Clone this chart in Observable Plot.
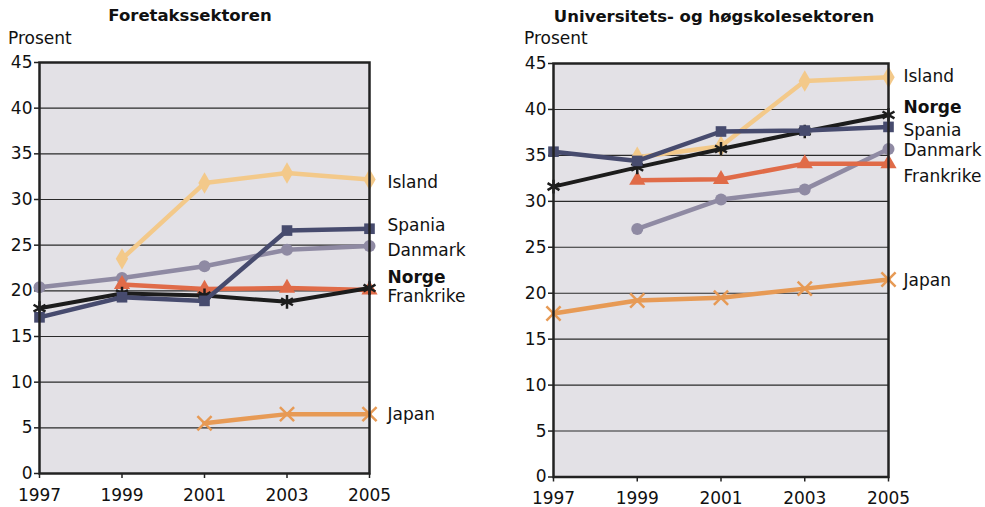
<!DOCTYPE html>
<html><head><meta charset="utf-8">
<script src="https://cdn.jsdelivr.net/npm/d3@7"></script>
<script src="https://cdn.jsdelivr.net/npm/@observablehq/plot@0.6"></script>
<style>
body{margin:0;background:#fff;font-family:"DejaVu Sans",Verdana,sans-serif;}
#wrap{position:relative;width:985px;height:507px;overflow:hidden;}
.t{position:absolute;font-size:17px;line-height:17px;white-space:nowrap;color:#111;}
.title{font-weight:bold;font-size:16.5px;transform:translateX(-50%);}
.panel{position:absolute;top:0;}
</style></head><body>
<div id="wrap">
  <div class="t title" style="left:190px;top:7px;">Foretakssektoren</div>
  <div class="t" style="left:8px;top:30px;">Prosent</div>
  <div class="t title" style="left:714px;top:8px;">Universitets- og høgskolesektoren</div>
  <div class="t" style="left:524px;top:30px;">Prosent</div>
  <div class="panel" id="p1" style="left:0px;"></div>
  <div class="panel" id="p2" style="left:514px;"></div>
</div>
<script>
const years = [1997, 1999, 2001, 2003, 2005];
const yTicks = [0, 5, 10, 15, 20, 25, 30, 35, 40, 45];
const countries = ["Island", "Spania", "Danmark", "Frankrike", "Norge", "Japan"];
const colors = ["#f3c98a", "#474b6e", "#8f8aa3", "#e06b48", "#1c1c1c", "#e79a55"];
const symbols = ["diamond", "square", "circle", "triangle", "asterisk", "times"];
const drawOrder = ["Island", "Japan", "Danmark", "Frankrike", "Norge", "Spania"];

// Foretakssektoren (values per year 1997..2005)
const fIsland    = [null, 23.5, 31.8, 32.9, 32.2];
const fSpania    = [17.1, 19.3, 18.9, 26.6, 26.8];
const fDanmark   = [20.4, 21.4, 22.7, 24.5, 24.9];
const fFrankrike = [null, 20.7, 20.2, 20.3, 20.1];
const fNorge     = [18.1, 19.7, 19.5, 18.8, 20.3];
const fJapan     = [null, null, 5.5, 6.5, 6.5];
// label anchors (data units), order: Island, Spania, Danmark, Frankrike, Norge, Japan
const fLabelY    = [31.9, 27.2, 24.4, 19.4, 21.5, 6.5];

// Universitets- og høgskolesektoren
const uIsland    = [null, 34.8, 36.0, 43.1, 43.5];
const uSpania    = [35.4, 34.4, 37.6, 37.7, 38.1];
const uDanmark   = [null, 27.0, 30.2, 31.3, 35.7];
const uFrankrike = [null, 32.3, 32.4, 34.1, 34.1];
const uNorge     = [31.6, 33.7, 35.7, 37.6, 39.4];
const uJapan     = [17.8, 19.2, 19.5, 20.5, 21.5];
const uLabelY    = [43.6, 37.7, 35.5, 32.7, 40.2, 21.4];

function buildRows(series) {
  const rows = [];
  countries.forEach((c, i) => series[i].forEach((v, j) => {
    if (v != null) rows.push({country: c, year: years[j], value: v});
  }));
  return rows;
}

function panel(series, labelY, o) {
  const rows = buildRows(series);
  const labels = countries.map((c, i) => ({country: c, pos: labelY[i], year: 2005}));
  const marks = [
    Plot.frame({fill: "#e3e1e6", stroke: null}),
    Plot.gridY(yTicks.slice(1, -1), {stroke: "#2a2a2a", strokeOpacity: 1, strokeWidth: 1.1}),
    Plot.axisY({ticks: yTicks, tickSize: 5, tickPadding: 2, label: null, stroke: "#222", strokeWidth: 1.5}),
    Plot.axisX({ticks: years, tickFormat: "d", tickSize: 5, tickPadding: 10, label: null, stroke: "#222", strokeWidth: 1.5})
  ];
  for (const c of drawOrder) {
    const data = rows.filter(d => d.country === c);
    marks.push(Plot.line(data, {x: "year", y: "value", stroke: "country", strokeWidth: c === "Norge" ? 4 : 4.5, strokeLinejoin: "round"}));
    if (c === "Norge" || c === "Japan") {
      marks.push(Plot.dot(data, {x: "year", y: "value", symbol: "country", stroke: "country", strokeWidth: 2.5, r: 6.5}));
    } else {
      marks.push(Plot.dot(data, {x: "year", y: "value", symbol: "country", fill: "country", r: c === "Island" ? 6.5 : 6}));
    }
  }
  marks.push(Plot.frame({stroke: "#222", strokeWidth: 2.5}));
  marks.push(Plot.text(labels.filter(d => d.country !== "Norge"), {x: "year", y: "pos", text: "country", textAnchor: "start", dx: o.dx, fill: "#111"}));
  marks.push(Plot.text(labels.filter(d => d.country === "Norge"), {x: "year", y: "pos", text: "country", textAnchor: "start", dx: o.dx, fill: "#111", fontWeight: "bold"}));
  return Plot.plot({
    width: o.width, height: 507,
    marginTop: o.mt, marginBottom: o.mb, marginLeft: 39, marginRight: o.mr,
    style: {fontFamily: "DejaVu Sans, Verdana, sans-serif", fontSize: "17px", color: "#111", background: "transparent", overflow: "visible"},
    x: {domain: [1997, 2005]},
    y: {domain: [0, 45]},
    color: {domain: countries, range: colors},
    symbol: {domain: countries, range: symbols},
    marks
  });
}

document.getElementById("p1").append(panel(
  [fIsland, fSpania, fDanmark, fFrankrike, fNorge, fJapan], fLabelY,
  {width: 490, mt: 62, mb: 34, mr: 121, dx: 18}));
document.getElementById("p2").append(panel(
  [uIsland, uSpania, uDanmark, uFrankrike, uNorge, uJapan], uLabelY,
  {width: 471, mt: 63, mb: 30.5, mr: 97, dx: 15}));
</script>
</body></html>
